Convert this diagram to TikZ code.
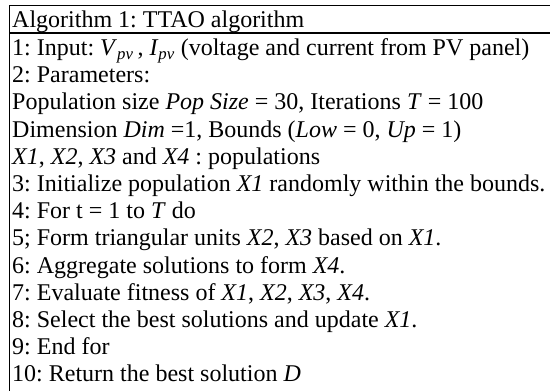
\documentclass[tikz,border=0pt]{standalone}
\usepackage{fontspec}
\setmainfont{Liberation Serif}
\frenchspacing
\newcommand{\vi}[2]{\textit{#1}\textsubscript{\textit{#2}}}
\begin{document}
\begin{tikzpicture}[x=1bp,y=-1bp,
  rule/.style={line width=1.6bp, line cap=rect},
  algline/.style={anchor=base west, inner sep=0pt, font=\fontsize{24bp}{26bp}\selectfont}]
\useasboundingbox (0,0) rectangle (550,390);
\draw[rule] (9.5,5.5) -- (551,5.5);
\draw[rule] (9.5,33) -- (551,33);
\draw[rule] (9.5,5.5) -- (9.5,391);
\node[algline] (head) at (12,27) {Algorithm 1: TTAO algorithm};
\node[algline] (l1) at (12,55.5) {1: Input: \vi{V}{pv}\,, \vi{I}{pv} (voltage and current from PV panel)};
\node[algline] (l2) at (12,82.7) {2: Parameters:};
\node[algline] (l3) at (12,109.9) {Population size \textit{Pop Size} = 30, Iterations \textit{T} = 100};
\node[algline] (l4) at (12,137.1) {Dimension \textit{Dim} =1, Bounds (\textit{Low} = 0, \textit{Up} = 1)};
\node[algline] (l5) at (12,164.3) {\textit{X1}, \textit{X2}, \textit{X3} and \textit{X4} : populations};
\node[algline] (l6) at (12,191.5) {3: Initialize population \textit{X1} randomly within the bounds.};
\node[algline] (l7) at (12,218.7) {4: For t = 1 to \textit{T} do};
\node[algline] (l8) at (12,245.9) {5; Form triangular units \textit{X2}, \textit{X3} based on \textit{X1}.};
\node[algline] (l9) at (12,273.1) {6: Aggregate solutions to form \textit{X4}.};
\node[algline] (l10) at (12,300.3) {7: Evaluate fitness of \textit{X1}, \textit{X2}, \textit{X3}, \textit{X4}.};
\node[algline] (l11) at (12,327.5) {8: Select the best solutions and update \textit{X1}.};
\node[algline] (l12) at (12,354.7) {9: End for};
\node[algline] (l13) at (12,381.9) {10: Return the best solution \textit{D}};
\end{tikzpicture}
\end{document}
